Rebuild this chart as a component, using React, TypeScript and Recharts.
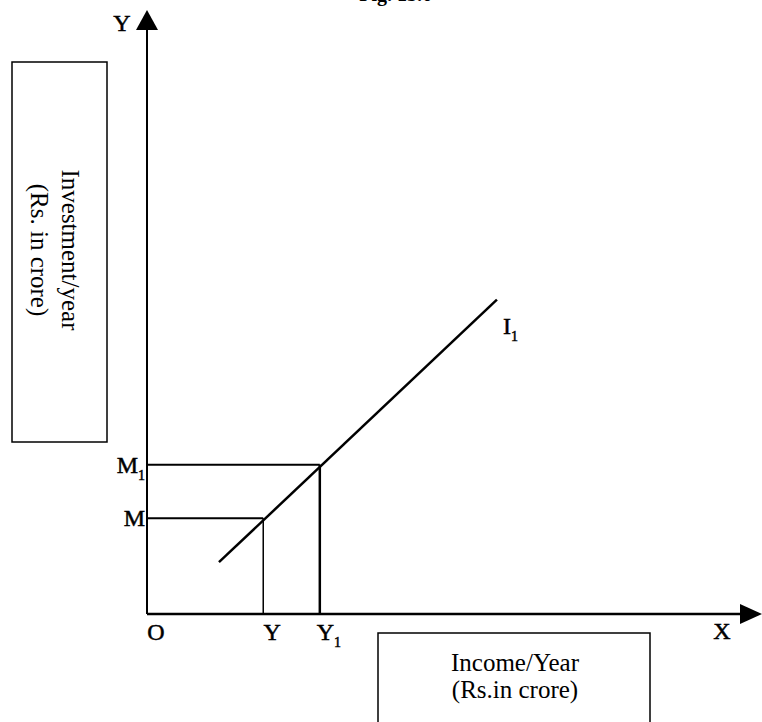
import React from 'react';
import { ComposedChart, Line, Scatter, XAxis, YAxis, ReferenceLine, Customized } from 'recharts';

// investment function I1 (two end points)
const investmentLine = [
    { x: 11.7, y: 8.6 },
    { x: 56.9, y: 52.2 },
];

// income levels on the X axis: O, Y, Y1
const incomeTicks = [0, 18.9, 28.1];
const incomeTickLabels = [['O', ''], ['Y', ''], ['Y', '1']];

// investment levels on the Y axis: M, M1
const investTicks = [15.9, 24.8];
const investTickLabels = [['M', ''], ['M', '1']];

// arrow heads at the end of both axes
const arrowTips = [
    { x: 100, y: 0, dir: 'right' },
    { x: 0, y: 100.3, dir: 'up' },
];

const FONT = '"Liberation Serif", "Times New Roman", serif';

const IncomeTick = (props: any) => {
    const { x, y, payload } = props;
    const i = incomeTicks.indexOf(payload.value);
    const [main, sub] = incomeTickLabels[i] || ['', ''];
    return (
        <text x={x + 9} y={y + 26} textAnchor="middle" fontFamily={FONT} fontSize={24} fill="#000" stroke="#000" strokeWidth={0.5}>
            {main}
            {sub && <tspan fontSize={14} dy={7}>{sub}</tspan>}
        </text>
    );
};

const InvestTick = (props: any) => {
    const { x, y, payload } = props;
    const i = investTicks.indexOf(payload.value);
    const [main, sub] = investTickLabels[i] || ['', ''];
    return (
        <text x={x - 2} y={y + 8} textAnchor="end" fontFamily={FONT} fontSize={24} fill="#000" stroke="#000" strokeWidth={0.5}>
            {main}
            {sub && <tspan fontSize={14} dy={7}>{sub}</tspan>}
        </text>
    );
};

const ArrowHead = (props: any) => {
    const { cx, cy, payload } = props;
    if (payload.dir === 'right') {
        return <polygon points={`${cx},${cy} ${cx - 22},${cy - 10} ${cx - 22},${cy + 10}`} fill="#000" />;
    }
    return <polygon points={`${cx},${cy} ${cx - 11},${cy + 20} ${cx + 11},${cy + 20}`} fill="#000" />;
};

const Annotations = () => (
    <g fontFamily={FONT} fill="#000">
        <text x={432} y={1} textAnchor="end" fontSize={20} fontWeight="bold">Fig. 13.6</text>
        <g stroke="#000" strokeWidth={0.5}>
            <text x={122} y={31} textAnchor="middle" fontSize={24}>Y</text>
            <text x={722} y={639} textAnchor="middle" fontSize={24}>X</text>
            <text x={503} y={334} fontSize={24}>
                I<tspan fontSize={14} dy={7}>1</tspan>
            </text>
        </g>

        {/* Y axis title box */}
        <rect x={12} y={62} width={95} height={380} fill="none" stroke="#000" strokeWidth={1.5} />
        <g transform="translate(59.5,250) rotate(90)">
            <text x={0} y={-2} textAnchor="middle" fontSize={25}>Investment/year</text>
            <text x={0} y={29} textAnchor="middle" fontSize={25}>(Rs. in crore)</text>
        </g>

        {/* X axis title box */}
        <rect x={378} y={633} width={272} height={120} fill="none" stroke="#000" strokeWidth={1.5} />
        <text x={515} y={671} textAnchor="middle" fontSize={25}>Income/Year</text>
        <text x={515} y={698} textAnchor="middle" fontSize={25}>(Rs.in crore)</text>
    </g>
);

export default function App() {
    const [m, m1] = investTicks;
    const [, y0, y1] = incomeTicks;
    return (
        <div style={{ position: 'absolute', left: 0, top: 0, width: 762, height: 722, background: '#fff' }}>
            <ComposedChart width={762} height={722} margin={{ top: 10, right: 0, left: 107, bottom: 78 }}>
                <XAxis
                    type="number"
                    dataKey="x"
                    domain={[0, 100]}
                    ticks={incomeTicks}
                    interval={0}
                    axisLine={false}
                    tickLine={false}
                    tickSize={0}
                    tickMargin={0}
                    tick={<IncomeTick />}
                    height={30}
                />
                <YAxis
                    type="number"
                    dataKey="y"
                    domain={[0, 100]}
                    ticks={investTicks}
                    interval={0}
                    axisLine={false}
                    tickLine={false}
                    tickSize={0}
                    tickMargin={0}
                    tick={<InvestTick />}
                    width={40}
                />

                {/* axes */}
                <ReferenceLine segment={[{ x: 0, y: 0 }, { x: 97, y: 0 }]} stroke="#000" strokeWidth={2.5} ifOverflow="visible" />
                <ReferenceLine segment={[{ x: 0, y: 0 }, { x: 0, y: 97 }]} stroke="#000" strokeWidth={2} ifOverflow="visible" />

                {/* guide lines */}
                <ReferenceLine segment={[{ x: 0, y: m }, { x: y0, y: m }]} stroke="#000" strokeWidth={2} ifOverflow="visible" />
                <ReferenceLine segment={[{ x: y0, y: 0 }, { x: y0, y: m }]} stroke="#000" strokeWidth={1.5} ifOverflow="visible" />
                <ReferenceLine segment={[{ x: 0, y: m1 }, { x: y1, y: m1 }]} stroke="#000" strokeWidth={2} ifOverflow="visible" />
                <ReferenceLine segment={[{ x: y1, y: 0 }, { x: y1, y: m1 }]} stroke="#000" strokeWidth={2.5} ifOverflow="visible" />

                <Line
                    data={investmentLine}
                    dataKey="y"
                    type="linear"
                    stroke="#000"
                    strokeWidth={2.5}
                    dot={false}
                    activeDot={false}
                    isAnimationActive={false}
                />
                <Scatter data={arrowTips} dataKey="y" shape={<ArrowHead />} isAnimationActive={false} />

                <Customized component={Annotations} />
            </ComposedChart>
        </div>
    );
}
